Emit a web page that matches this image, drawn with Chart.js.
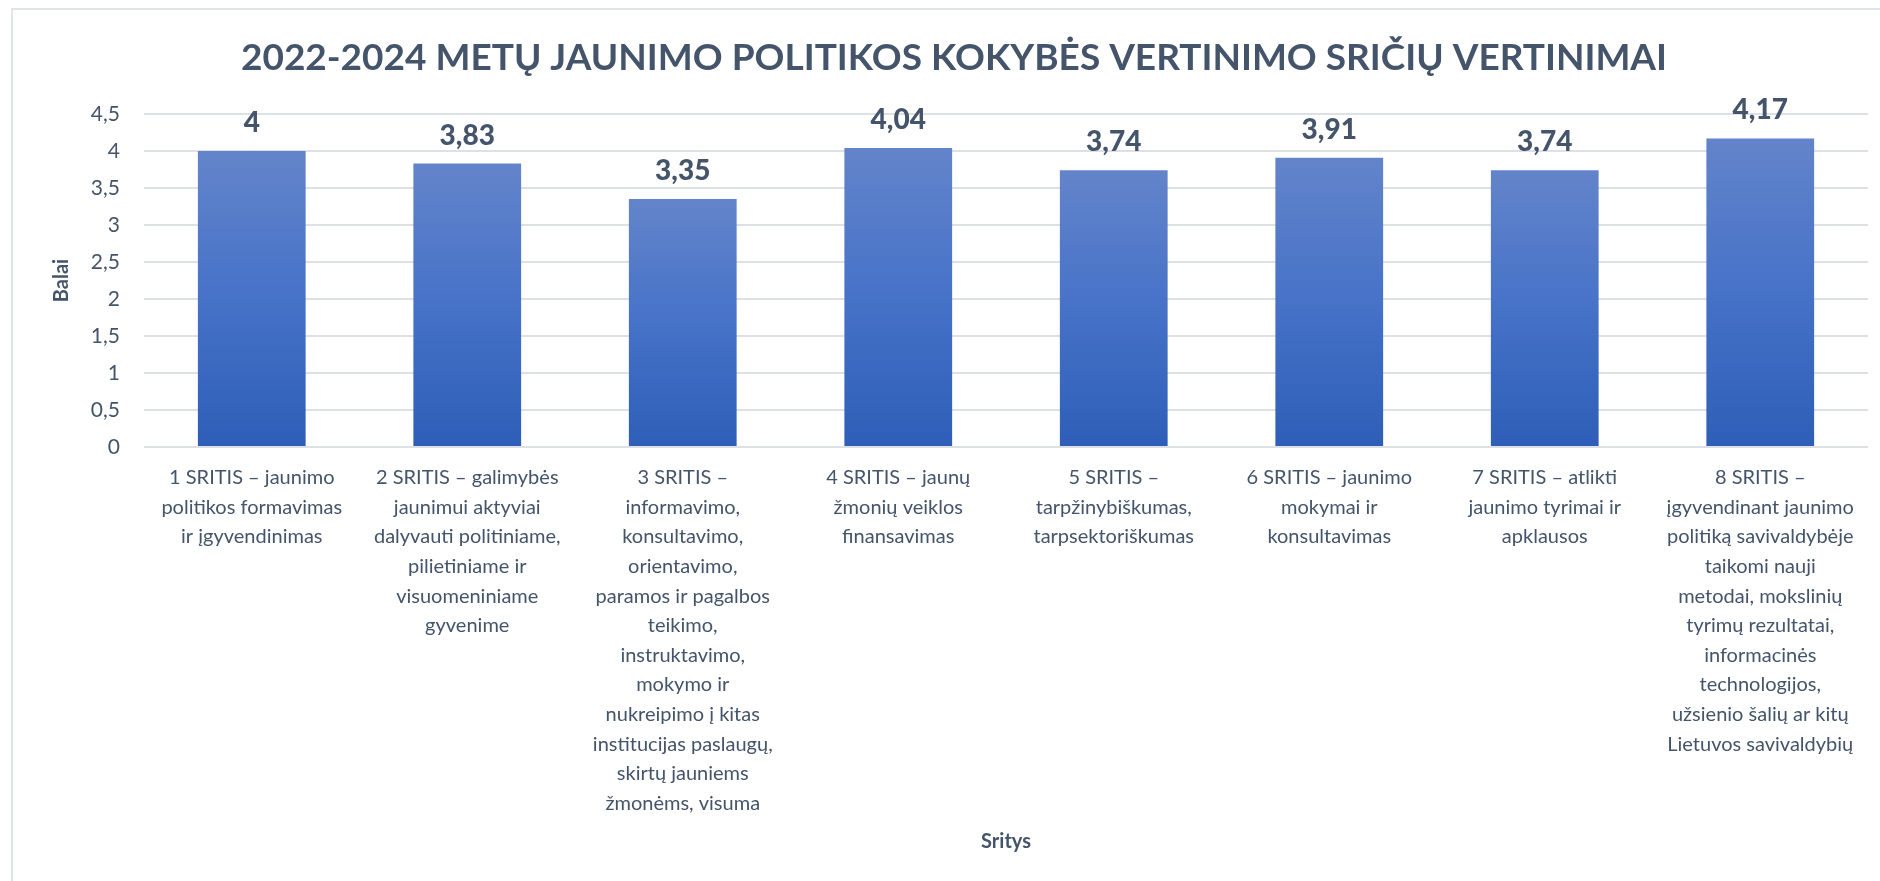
<!DOCTYPE html>
<html lang="lt">
<head>
<meta charset="utf-8">
<title>Jaunimo politikos kokybės vertinimas</title>
<script src="https://cdn.jsdelivr.net/npm/chart.js@4.4.1/dist/chart.umd.min.js"></script>
<style>
  html, body { margin: 0; padding: 0; background: #fff; overflow: hidden; }
  #wrap { position: relative; width: 1880px; height: 881px; }
  #rėmas { position: absolute; left: 11px; top: 8px; right: 0; bottom: 0;
           border-left: 2px solid #E1E5EA; border-top: 2px solid #E1E5EA; pointer-events: none; }
  canvas { position: absolute; left: 0; top: 0; }
</style>
</head>
<body>
<div id="wrap">
  <canvas id="grafikas" width="1880" height="881"></canvas>
  <div id="rėmas"></div>
</div>
<script>
// --- DUOMENYS ---
const sritys = [
    ["1 SRITIS – jaunimo", "politikos formavimas", "ir įgyvendinimas"],
    ["2 SRITIS – galimybės", "jaunimui aktyviai", "dalyvauti politiniame,", "pilietiniame ir", "visuomeniniame", "gyvenime"],
    ["3 SRITIS –", "informavimo,", "konsultavimo,", "orientavimo,", "paramos ir pagalbos", "teikimo,", "instruktavimo,", "mokymo ir", "nukreipimo į kitas", "institucijas paslaugų,", "skirtų jauniems", "žmonėms, visuma"],
    ["4 SRITIS – jaunų", "žmonių veiklos", "finansavimas"],
    ["5 SRITIS –", "tarpžinybiškumas,", "tarpsektoriškumas"],
    ["6 SRITIS – jaunimo", "mokymai ir", "konsultavimas"],
    ["7 SRITIS – atlikti", "jaunimo tyrimai ir", "apklausos"],
    ["8 SRITIS –", "įgyvendinant jaunimo", "politiką savivaldybėje", "taikomi nauji", "metodai, mokslinių", "tyrimų rezultatai,", "informacinės", "technologijos,", "užsienio šalių ar kitų", "Lietuvos savivaldybių"]
];
const balai = [4, 3.83, 3.35, 4.04, 3.74, 3.91, 3.74, 4.17];
const yTikai = [0, 0.5, 1, 1.5, 2, 2.5, 3, 3.5, 4, 4.5];

const pavadinimas = "2022-2024 METŲ JAUNIMO POLITIKOS KOKYBĖS VERTINIMO SRIČIŲ VERTINIMAI";
const yPavadinimas = "Balai";
const xPavadinimas = "Sritys";

const tekstoSpalva = '#44546A';
const tinkloSpalva = '#DDE1E6';
const sriftas = "Lato, 'Open Sans', sans-serif";

function kablelis(v) {
    return String(v).replace('.', ',');
}

// gradientas kiekvienam stulpeliui atskirai (šviesesnis viršus)
function stulpelioSpalva(ctx) {
    const chart = ctx.chart;
    if (!chart.chartArea || ctx.type !== 'data') return '#4472C4';
    const y = chart.scales.y;
    const virsus = y.getPixelForValue(ctx.raw);
    const apacia = y.getPixelForValue(0);
    const g = chart.ctx.createLinearGradient(0, virsus, 0, apacia);
    g.addColorStop(0, '#6384CA');
    g.addColorStop(0.5, '#4672C8');
    g.addColorStop(1, '#2E5EB7');
    return g;
}

// pavadinimas piešiamas atskirai, kad būtų centruotas kaip originale
const antraste = {
    id: 'antraste',
    afterDraw(chart) {
        const ctx = chart.ctx;
        ctx.save();
        ctx.font = "bold 37px " + sriftas;
        ctx.fillStyle = tekstoSpalva;
        ctx.textAlign = 'center';
        ctx.textBaseline = 'middle';
        ctx.fillText(pavadinimas, 954, 58);
        ctx.restore();
    }
};

// reikšmių etiketės virš stulpelių
const reiksmiuEtiketes = {
    id: 'reiksmiuEtiketes',
    afterDatasetsDraw(chart) {
        const ctx = chart.ctx;
        const meta = chart.getDatasetMeta(0);
        ctx.save();
        ctx.font = "900 28px " + sriftas;
        ctx.fillStyle = tekstoSpalva;
        ctx.textAlign = 'center';
        ctx.textBaseline = 'middle';
        meta.data.forEach((bar, i) => {
            ctx.fillText(kablelis(balai[i]), bar.x, bar.y - 28);
        });
        ctx.restore();
    }
};

const ctx = document.getElementById('grafikas').getContext('2d');
new Chart(ctx, {
    type: 'bar',
    data: {
        labels: sritys,
        datasets: [{
            data: balai,
            backgroundColor: stulpelioSpalva,
            borderWidth: 0,
            barPercentage: 0.5,
            categoryPercentage: 1
        }]
    },
    options: {
        responsive: false,
        animation: false,
        layout: { padding: { left: 20, right: 12, top: 114, bottom: 0 } },
        plugins: {
            legend: { display: false },
            tooltip: { enabled: false },
            title: { display: false }
        },
        scales: {
            x: {
                grid: { display: false, drawTicks: false },
                border: { display: false },
                ticks: {
                    color: tekstoSpalva,
                    font: { family: sriftas, size: 20, lineHeight: 1.48 },
                    padding: 16,
                    maxRotation: 0,
                    autoSkip: false
                },
                title: {
                    display: true,
                    text: xPavadinimas,
                    color: tekstoSpalva,
                    font: { family: sriftas, size: 20, weight: 'bold', lineHeight: 1.2 },
                    padding: { top: 4, bottom: 27 }
                },
                afterFit(scale) { scale.height = 434; }
            },
            y: {
                min: 0,
                max: 4.5,
                afterBuildTicks(scale) { scale.ticks = yTikai.map(v => ({ value: v })); },
                grid: { color: tinkloSpalva, lineWidth: 2, drawTicks: false },
                border: { display: false },
                ticks: {
                    color: tekstoSpalva,
                    font: { family: sriftas, size: 21 },
                    padding: 24,
                    callback: v => kablelis(v)
                },
                title: {
                    display: true,
                    text: yPavadinimas,
                    color: tekstoSpalva,
                    font: { family: sriftas, size: 20, weight: 'bold', lineHeight: 1.2 },
                    padding: { top: 30, bottom: 0 }
                },
                afterFit(scale) { scale.width = 124; }
            }
        }
    },
    plugins: [reiksmiuEtiketes, antraste]
});
</script>
</body>
</html>
